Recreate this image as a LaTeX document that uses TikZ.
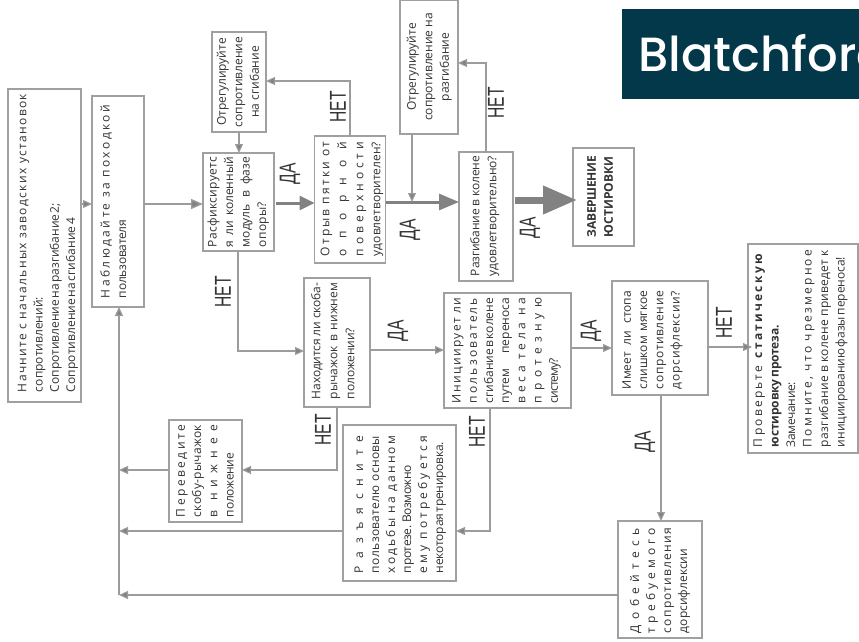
\documentclass[tikz,border=0pt]{standalone}
\usepackage{fontspec}
\setmainfont{Open Sans}
\newfontfamily\logofont{Poppins Medium}
\newfontfamily\yesnofont{Liberation Sans}
\usetikzlibrary{arrows.meta,calc}
\definecolor{bord}{HTML}{A0A0A0}
\definecolor{conn}{HTML}{9C9C9C}
\definecolor{thick}{HTML}{828282}
\definecolor{ink}{HTML}{333333}
\definecolor{logobg}{HTML}{03374A}
\newlength\bxW
\newlength\bxP
\newcommand\bxline[1]{\hbox to \bxW{\vrule width 0pt height .7\bxP depth .3\bxP\relax #1\hss}}
\newcommand\FitL[2]{\setbox0\hbox{#2}\setbox2\hbox{\addfontfeature{LetterSpace=10}#2}%
  \pgfmathsetmacro\bxls{10*(#1-\the\wd0)/(\the\wd2-\the\wd0)}%
  \edef\bxtmp{\noexpand\addfontfeature{LetterSpace=\bxls}}\bxtmp #2}
\newcommand\lnF[2]{\bxline{\FitL{#1}{#2}}}
\newcommand\lnT[2]{\bxline{\spaceskip=.13em\relax\FitL{#1}{#2}}}
\newcommand\lnJ[2]{\bxline{\hbox to #1pt{\spaceskip=.2em plus 1fill minus .2em\relax #2}}}
\newcommand\lnN[1]{\bxline{#1}}
\newcommand\lnC[1]{\hbox to \bxW{\vrule width 0pt height .7\bxP depth .3\bxP\relax\hss #1\hss}}
\newcommand\BX[9]{%
  \pgfmathsetlengthmacro\bxw{(#4-#2)*1pt}%
  \pgfmathsetlengthmacro\bxh{(#5-#3)*1pt}%
  \pgfmathsetlengthmacro\bxk{2*(#6-(#2+#4)/2)*1pt}%
  \pgfmathsetlength\bxW{2*(#7-(#3+#5)/2)*1pt}%
  \setlength\bxP{#8pt}%
  \node[nbox,minimum width=\bxw,minimum height=\bxh] (#1) at ({(#2+#4)/2},{(#3+#5)/2})
    {\hbox{\kern\bxk\rotatebox{90}{\vbox{\offinterlineskip #9}}}};%
}
\newcommand\YN[3]{\node[yn] at (#1,#2) {\rotatebox{90}{\scalebox{.68}[1]{#3}}};}
\tikzset{
  nbox/.style={draw=bord,line width=1.2pt,fill=white,inner sep=0pt,outer sep=0pt,text=ink,
    font=\fontsize{12}{14}\selectfont},
  yn/.style={inner sep=0pt,text=ink,font=\yesnofont\fontsize{23}{23}\selectfont},
  arr/.style={draw=conn,line width=1.1pt,-{Triangle[length=9pt,width=8pt,fill=thick]}},
  arrb/.style={draw=conn,line width=1.4pt,-{Triangle[length=12pt,width=10pt,fill=thick]}},
  arrc/.style={draw=thick,line width=3pt,-{Triangle[length=15pt,width=14pt,fill=thick]}},
  arrd/.style={draw=thick,line width=3pt,-{Triangle[length=20pt,width=16pt,fill=thick]}},
  arre/.style={draw=thick,line width=7pt,-{Triangle[length=34pt,width=27pt,fill=thick]}},
  lin/.style={draw=conn,line width=1pt},
}
\begin{document}
\begin{tikzpicture}[x=1pt,y=-1pt]
\useasboundingbox (0,0) rectangle (859,642);
\BX{start}{8}{89}{81}{402}{47.5}{392}{16.3}{%
  \lnF{298}{Начните с начальных заводских установок}
  \lnF{95}{сопротивлений:}
  \lnT{189}{Сопротивление на разгибание 2;}
  \lnT{174}{Сопротивление на сгибание 4}}
\BX{watch}{92}{96}{144}{307}{114.5}{298}{16.5}{%
  \lnF{193}{Наблюдайте за походкой}
  \lnF{78}{пользователя}}
\BX{unlock}{203}{153}{274}{251}{238}{247}{16.5}{%
  \lnF{90}{Расфиксируетс}
  \lnJ{90}{я ли коленный}
  \lnJ{90}{модуль в фазе}
  \lnF{45}{опоры?}}
\BX{adjflex}{212}{32}{266}{132}{239}{127}{16.5}{%
  \lnC{Отрегулируйте}
  \lnC{сопротивление}
  \lnC{на сгибание}}
\BX{heel}{315}{136}{385}{263}{351.5}{256}{17}{%
  \lnF{114}{Отрыв пятки от}
  \lnF{114}{опорной}
  \lnF{114}{поверхности}
  \lnF{114}{удовлетворителен?}}
\BX{adjext}{400}{0}{458}{134}{429}{110}{16.5}{%
  \lnC{Отрегулируйте}
  \lnC{сопротивление на}
  \lnC{разгибание}}
\BX{ext}{459}{152}{513}{281}{484.5}{276}{17}{%
  \lnF{120}{Разгибание в колене}
  \lnF{120}{удовлетворительно?}}
\BX{done}{573}{148}{634}{246}{601}{237}{17}{%
  \lnF{81}{\bfseries ЗАВЕРШЕНИЕ}
  \lnF{80}{\bfseries ЮСТИРОВКИ}}
\BX{lever}{304}{278}{370}{407}{334}{399}{17}{%
  \lnF{116}{Находится ли скоба-}
  \lnJ{116}{рычажок в нижнем}
  \lnF{71}{положении?}}
\BX{init}{444}{293}{571}{408}{506}{403}{16.2}{%
  \lnF{105}{Инициирует ли}
  \lnF{105}{пользователь}
  \lnT{105}{сгибание в колене}
  \lnJ{105}{путем переноса}
  \lnF{105}{веса тела на}
  \lnF{105}{протезную}
  \lnF{45}{систему?}}
\BX{foot}{612}{281}{708}{395}{652}{389}{16.3}{%
  \lnJ{98}{Имеет ли стопа}
  \lnJ{98}{слишком мягкое}
  \lnF{98}{сопротивление}
  \lnF{98}{дорсифлексии?}}
\BX{check}{748}{244}{858}{453}{800}{447}{16.5}{%
  \lnF{195}{Проверьте \textbf{статическую}}
  \lnT{122}{\bfseries юстировку протеза.}
  \lnF{65}{Замечание:}
  \lnF{197}{Помните, что чрезмерное}
  \lnF{197}{разгибание в колене приведет к}
  \lnT{190}{инициированию фазы переноса!}}
\BX{reach}{618}{521}{702}{638}{660}{633}{16}{%
  \lnF{105}{Добейтесь}
  \lnF{105}{требуемого}
  \lnF{105}{сопротивления}
  \lnF{84}{дорсифлексии}}
\BX{explain}{343}{425}{456}{581}{400}{573}{16}{%
  \lnF{137}{Разъясните}
  \lnF{137}{пользователю основы}
  \lnF{137}{ходьбы на данном}
  \lnT{108}{протезе. Возможно}
  \lnF{137}{ему потребуется}
  \lnT{131}{некоторая тренировка.}}
\BX{move}{169}{420}{242}{522}{206}{517}{16.3}{%
  \lnF{92}{Переведите}
  \lnF{92}{скобу-рычажок}
  \lnF{92}{в нижнее}
  \lnF{64}{положение}}
% logo
\begin{scope}
  \clip (622,9) rectangle (859,99);
  \fill[logobg] (622,9) rectangle (859,99);
  \node[inner sep=0pt,anchor=base west,text=white,font=\logofont\fontsize{48}{48}\selectfont] (logo) at (638,71) {Blatchford};
\end{scope}
% junctions
\coordinate (mainb) at (119,595);
\coordinate (jflex) at (350,81);
\coordinate (jext) at (486,63);
\coordinate (jlever) at (238,351);
\coordinate (jmove) at (337,470);
\coordinate (jexp) at (490,531);
\coordinate (jfoot) at (661,347);
\coordinate (jadj) at (412,202);
\coordinate (thickc) at (276,203);
\coordinate (thicke) at (515,200);
\coordinate (thickf) at (577,200);
\coordinate (tipcheck) at (752,347);
% connectors
\draw[arr] (start.east |- 0,204) -- (watch.west |- 0,204);
\draw[arrb] (watch.east |- 0,204) -- (unlock.west |- 0,204);
\draw[arrc] (thickc) -- (heel.west |- thickc);
\draw[arrd] (heel.east |- jadj) -- (ext.west |- jadj);
\draw[arr] (adjext.south -| jadj) -- (jadj);
\draw[arre] (thicke) -- (thickf);
\draw[arr] (heel.north -| jflex) -- (jflex) -- (adjflex.east |- jflex);
\draw[arr] (adjflex.south) -- (adjflex.south |- unlock.north);
\draw[arr] (ext.north -| jext) -- (jext) -- (adjext.east |- jext);
\draw[arr] (unlock.south -| jlever) -- (jlever) -- (lever.west |- jlever);
\draw[arr] (lever.east |- 0,350) -- (init.west |- 0,350);
\draw[arr] (init.east |- 0,348) -- (foot.west |- 0,348);
\draw[arr] (foot.east |- tipcheck) -- (tipcheck);
\draw[arr] (foot.south -| jfoot) -- (reach.north -| jfoot);
\draw[arr] (lever.south -| jmove) -- (jmove) -- (move.east |- jmove);
\draw[arr] (move.west |- jmove) -- (mainb |- jmove);
\draw[arr] (init.south -| jexp) -- (jexp) -- (explain.east |- jexp);
\draw[arr] (explain.west |- jexp) -- (mainb |- jexp);
\draw[arr] (reach.west |- mainb) -- (mainb);
\draw[arr] (mainb) -- (watch.south -| mainb);
% labels
\YN{290}{174}{ДА}
\YN{338}{107}{НЕТ}
\YN{410}{230}{ДА}
\YN{496}{103}{НЕТ}
\YN{530}{228}{ДА}
\YN{223}{292}{НЕТ}
\YN{398}{331}{ДА}
\YN{323}{430}{НЕТ}
\YN{591}{331}{ДА}
\YN{477}{432}{НЕТ}
\YN{724}{323}{НЕТ}
\YN{645}{442}{ДА}
\end{tikzpicture}
\end{document}
